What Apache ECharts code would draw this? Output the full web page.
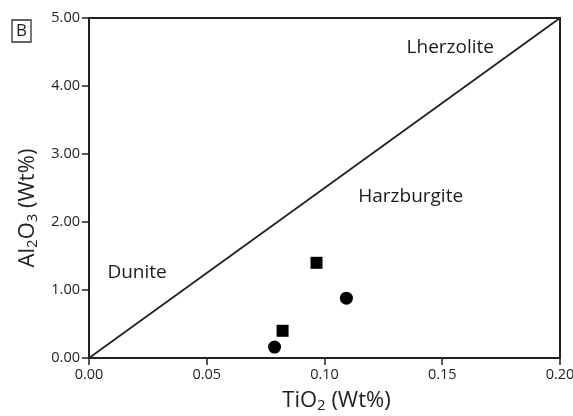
<!DOCTYPE html>
<html>
<head>
<meta charset="utf-8">
<script src="https://cdn.jsdelivr.net/npm/echarts@6/dist/echarts.min.js"></script>
<style>
  html, body { margin: 0; padding: 0; background: #fff; }
  #chart-container { width: 573px; height: 416px; }
</style>
</head>
<body>
<div id="chart-container"></div>
<script>
// data
var squares = [[0.0966, 1.40], [0.0822, 0.40]];
var circles = [[0.1093, 0.88], [0.0788, 0.16]];
var boundary = [[0, 0], [0.20, 5.00]];
var fields = [
    { name: 'Lherzolite', coord: [0.1534, 4.57] },
    { name: 'Harzburgite', coord: [0.1366, 2.37] },
    { name: 'Dunite', coord: [0.0204, 1.25] }
];

var font = 'Open Sans';
var chart = echarts.init(document.getElementById('chart-container'));

var option = {
    animation: false,
    textStyle: { fontFamily: font },
    grid: {
        left: 89, right: 13, top: 18, bottom: 58,
        outerBoundsMode: 'none',
        containLabel: false,
        show: true,
        borderColor: '#222',
        borderWidth: 2
    },
    graphic: [
        {
            type: 'rect',
            shape: { x: 12, y: 20, width: 19, height: 22 },
            style: { fill: '#fff', stroke: '#333', lineWidth: 1.3 }
        },
        {
            type: 'text',
            x: 21.5, y: 31.5,
            style: {
                text: 'B', font: '17px "Open Sans"', fill: '#222',
                textAlign: 'center', textVerticalAlign: 'middle'
            }
        }
    ],
    xAxis: {
        type: 'value',
        min: 0, max: 0.2, interval: 0.05,
        name: '{n|TiO}{s|2}{n| (Wt%)}',
        nameLocation: 'middle',
        nameGap: 30,
        nameTextStyle: {
            padding: [0, 0, 0, 24],
            rich: {
                n: { fontSize: 22, color: '#222', fontFamily: font },
                s: { fontSize: 15, color: '#222', fontFamily: font, padding: [10, 0, 0, 0] }
            }
        },
        axisLine: { lineStyle: { color: '#222', width: 2 } },
        axisTick: { show: true, length: 7, lineStyle: { color: '#222', width: 1.5 } },
        axisLabel: {
            color: '#222', fontSize: 14.5, margin: 9,
            formatter: function (v) { return v.toFixed(2); }
        },
        splitLine: { show: false }
    },
    yAxis: {
        type: 'value',
        min: 0, max: 5, interval: 1,
        name: '{n|Al}{s|2}{n|O}{s|3}{n| (Wt%)}',
        nameLocation: 'middle',
        nameGap: 40,
        nameTextStyle: {
            padding: [0, 40, 0, 0],
            rich: {
                n: { fontSize: 22, color: '#222', fontFamily: font },
                s: { fontSize: 15, color: '#222', fontFamily: font, padding: [10, 0, 0, 0] }
            }
        },
        axisLine: { lineStyle: { color: '#222', width: 2 } },
        axisTick: { show: true, length: 7, lineStyle: { color: '#222', width: 1.5 } },
        axisLabel: {
            color: '#222', fontSize: 14.5, margin: 9,
            formatter: function (v) { return v.toFixed(2); }
        },
        splitLine: { show: false }
    },
    series: [
        {
            name: 'boundary',
            type: 'line',
            data: boundary,
            symbol: 'none',
            lineStyle: { color: '#222', width: 1.8 },
            silent: true
        },
        {
            name: 'fields',
            type: 'scatter',
            data: fields.map(function (f) { return { name: f.name, value: f.coord }; }),
            symbolSize: 0,
            itemStyle: { opacity: 1 },
            label: {
                show: true,
                position: 'inside',
                formatter: '{b}',
                color: '#1a1a1a',
                fontSize: 19,
                fontFamily: font
            }
        },
        {
            name: 'squares',
            type: 'scatter',
            data: squares,
            symbol: 'rect',
            symbolSize: 12,
            itemStyle: { color: '#000', opacity: 1 }
        },
        {
            name: 'circles',
            type: 'scatter',
            data: circles,
            symbol: 'circle',
            symbolSize: 13,
            itemStyle: { color: '#000', opacity: 1 }
        }
    ]
};

chart.setOption(option);
</script>
</body>
</html>
